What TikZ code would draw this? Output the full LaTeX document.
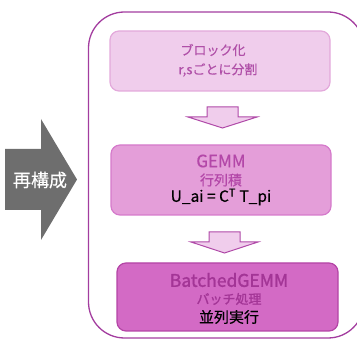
\documentclass[tikz,border=0pt]{standalone}
\usepackage{fontspec}
\setmainfont{Noto Sans CJK JP}
\newfontfamily\jpbold{Noto Sans CJK JP}[FakeBold=1.5]
\newfontfamily\jpmed{Noto Sans CJK JP}[FakeBold=0.4]
\usetikzlibrary{positioning}
\definecolor{outerline}{HTML}{A33D9F}
\definecolor{fillA}{HTML}{F0CDEC}
\definecolor{lineA}{HTML}{E3A9DB}
\definecolor{fillB}{HTML}{E49ED9}
\definecolor{lineB}{HTML}{D57ACB}
\definecolor{fillC}{HTML}{D36AC5}
\definecolor{lineC}{HTML}{B445A6}
\definecolor{txtA}{HTML}{B050A8}
\definecolor{txtB}{HTML}{B347A8}
\definecolor{txtC}{HTML}{A33596}
\definecolor{arrowgray}{HTML}{6E6E6E}
\definecolor{arrowline}{HTML}{B04AA8}
\tikzset{
  stepbox/.style={rounded corners=9pt, line width=1.2pt, align=center, inner sep=0pt},
  downarrow/.style={fill=fillA, draw=arrowline, line width=1pt, line join=miter},
}
\begin{document}
\begin{tikzpicture}[x=1pt,y=-1pt]
\useasboundingbox (0,0) rectangle (357,339);
\clip (0,0) rectangle (357,339);
% outer frame
\draw[outerline, line width=1.3pt, rounded corners=36pt] (88.5,12) rectangle (364,338);
% left arrow
\fill[arrowgray] (5,149) -- (41,149) -- (41,119) -- (77,179.5) -- (41,240) -- (41,210) -- (5,210) -- cycle;
\node[text=white, font=\jpmed\fontsize{18}{18}\selectfont] (recon) at (40,180) {再構成};
% boxes
\node[stepbox, fill=fillA, draw=lineA, minimum width=220pt, minimum height=60pt] (b1) at (220,61) {};
\node[text=txtA, font=\jpmed\fontsize{13}{13}\selectfont] (b1t1) at (213,50) {ブロック化};
\node[text=txtA, font=\jpmed\fontsize{13}{13}\selectfont] (b1t2) at (218,70) {r,sごとに分割};

\node[stepbox, fill=fillB, draw=lineB, minimum width=220pt, minimum height=70pt] (b2) at (221,180) {};
\node[text=txtB, font=\jpmed\fontsize{17}{17}\selectfont] (b2t1) at (221,161) {GEMM};
\node[text=txtB, font=\jpmed\fontsize{14}{14}\selectfont] (b2t2) at (221,180) {行列積};
\node[text=black, font=\jpmed\fontsize{15.5}{15.5}\selectfont] (b2t3) at (221,197) {U\_ai = C\textsuperscript{T} T\_pi};

\node[stepbox, fill=fillC, draw=lineC, minimum width=221pt, minimum height=68pt] (b3) at (227.5,297) {};
\node[text=txtC, font=\jpbold\fontsize{17.5}{17.5}\selectfont] (b3t1) at (229,280) {BatchedGEMM};
\node[text=txtC, font=\jpbold\fontsize{13}{13}\selectfont] (b3t2) at (229,299) {バッチ処理};
\node[text=black, font=\jpmed\fontsize{15}{15}\selectfont] (b3t3) at (229,317) {並列実行};

% down arrows
\draw[downarrow] (207,107) -- (238,107) -- (238,117) -- (257,117) -- (222.5,128) -- (188,117) -- (207,117) -- cycle;
\draw[downarrow] (209,232) -- (240,232) -- (240,242) -- (258,242) -- (224.5,253) -- (191,242) -- (209,242) -- cycle;
\end{tikzpicture}
\end{document}
